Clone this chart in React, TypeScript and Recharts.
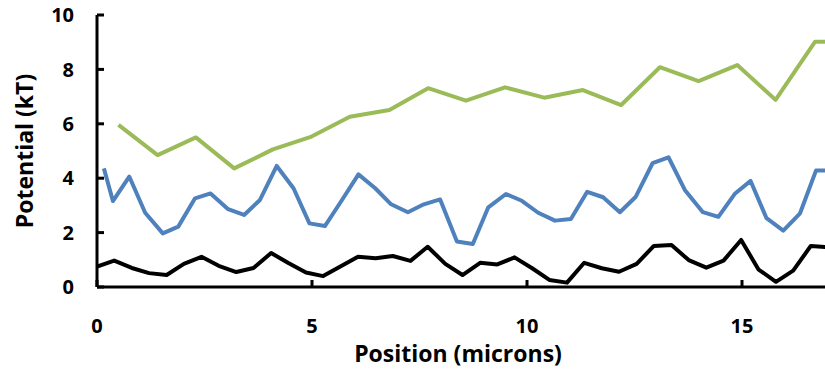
import React from 'react';
import { LineChart, Line, XAxis, YAxis } from 'recharts';

const xTicks = [0, 5, 10, 15];
const yTicks = [0, 2, 4, 6, 8, 10];

const blackX = [0, 0.4, 0.81, 1.21, 1.62, 2.02, 2.43, 2.83, 3.24, 3.64, 4.05, 4.45, 4.86, 5.26, 5.67, 6.07, 6.48, 6.88, 7.29, 7.69, 8.1, 8.5, 8.91, 9.31, 9.71, 10.12, 10.52, 10.93, 11.33, 11.74, 12.14, 12.55, 12.95, 13.36, 13.76, 14.17, 14.57, 14.98, 15.38, 15.79, 16.19, 16.6, 17.0];
const blackY = [0.75, 0.97, 0.70, 0.51, 0.44, 0.85, 1.11, 0.78, 0.55, 0.70, 1.25, 0.88, 0.53, 0.40, 0.76, 1.11, 1.06, 1.14, 0.96, 1.48, 0.85, 0.44, 0.89, 0.83, 1.09, 0.69, 0.26, 0.16, 0.89, 0.69, 0.56, 0.85, 1.51, 1.54, 0.99, 0.71, 0.97, 1.73, 0.65, 0.19, 0.60, 1.51, 1.46];

const blueX = [0.16, 0.37, 0.75, 1.12, 1.53, 1.89, 2.28, 2.64, 3.05, 3.42, 3.79, 4.18, 4.57, 4.94, 5.30, 5.69, 6.08, 6.47, 6.84, 7.23, 7.60, 7.98, 8.37, 8.74, 9.10, 9.51, 9.88, 10.26, 10.65, 11.02, 11.40, 11.77, 12.16, 12.53, 12.92, 13.29, 13.67, 14.09, 14.45, 14.84, 15.20, 15.57, 15.96, 16.35, 16.72, 17.09];
const blueY = [4.36, 3.16, 4.06, 2.73, 1.97, 2.22, 3.26, 3.44, 2.86, 2.65, 3.20, 4.45, 3.63, 2.34, 2.24, 3.18, 4.14, 3.63, 3.04, 2.75, 3.04, 3.22, 1.67, 1.58, 2.93, 3.42, 3.17, 2.73, 2.44, 2.50, 3.50, 3.30, 2.75, 3.32, 4.55, 4.77, 3.57, 2.75, 2.58, 3.44, 3.90, 2.53, 2.07, 2.71, 4.28, 4.28];

const greenX = [0.50, 1.41, 2.30, 3.19, 4.09, 4.99, 5.88, 6.80, 7.70, 8.58, 9.49, 10.40, 11.30, 12.19, 13.09, 13.99, 14.89, 15.78, 16.70, 17.60];
const greenY = [5.96, 4.85, 5.50, 4.36, 5.06, 5.53, 6.26, 6.51, 7.31, 6.85, 7.34, 6.96, 7.24, 6.69, 8.08, 7.57, 8.16, 6.88, 9.02, 9.02];

const toData = (xs: number[], ys: number[]) => xs.map((x, i) => ({ x, y: ys[i] }));
const blackData = toData(blackX, blackY);
const blueData = toData(blueX, blueY);
const greenData = toData(greenX, greenY);

const FONT = '"Open Sans", sans-serif';

const YTick = (props: any) => {
  const { x, y, payload } = props;
  return (
    <g>
      <line x1={x} y1={y} x2={x + 7} y2={y} stroke="#000" strokeWidth={3} />
      <text x={x - 23} y={y} dy="0.36em" textAnchor="end" fontFamily={FONT} fontWeight={700} fontSize={20} fill="#000">
        {payload.value}
      </text>
    </g>
  );
};

const XTick = (props: any) => {
  const { x, y, payload } = props;
  return (
    <g>
      <line x1={x} y1={y} x2={x} y2={y - 7} stroke="#000" strokeWidth={3} />
      <text x={x} y={y + 39} dy="0.36em" textAnchor="middle" fontFamily={FONT} fontWeight={700} fontSize={20} fill="#000">
        {payload.value}
      </text>
    </g>
  );
};

const XTitle = () => (
  <text x={458} y={362} textAnchor="middle" fontFamily={FONT} fontWeight={700} fontSize={23} fill="#000">
    Position (microns)
  </text>
);

const YTitle = () => (
  <text transform="translate(33,151) rotate(-90)" textAnchor="middle" fontFamily={FONT} fontWeight={700} fontSize={23} fill="#000">
    Potential (kT)
  </text>
);

export default function App() {
  return (
    <div style={{ position: 'absolute', left: 0, top: 0, width: 825, height: 376, background: '#fff' }}>
      <LineChart width={825} height={376} margin={{ top: 15, right: 0, bottom: 88, left: 96 }}>
        <XAxis
          type="number"
          dataKey="x"
          domain={[0, 16.93]}
          ticks={xTicks}
          allowDataOverflow
          height={1}
          tickSize={0}
          tickMargin={0}
          tick={<XTick />}
          axisLine={{ stroke: '#000', strokeWidth: 3 }}
          label={<XTitle />}
        />
        <YAxis
          type="number"
          dataKey="y"
          domain={[0, 10]}
          ticks={yTicks}
          width={1}
          tickSize={0}
          tickMargin={0}
          tick={<YTick />}
          axisLine={{ stroke: '#000', strokeWidth: 3 }}
          label={<YTitle />}
        />
        <Line data={greenData} dataKey="y" stroke="#9BBB59" strokeWidth={4} dot={false} isAnimationActive={false} strokeLinejoin="round" />
        <Line data={blueData} dataKey="y" stroke="#4F81BD" strokeWidth={4} dot={false} isAnimationActive={false} strokeLinejoin="round" />
        <Line data={blackData} dataKey="y" stroke="#000" strokeWidth={4} dot={false} isAnimationActive={false} strokeLinejoin="round" />
      </LineChart>
    </div>
  );
}
